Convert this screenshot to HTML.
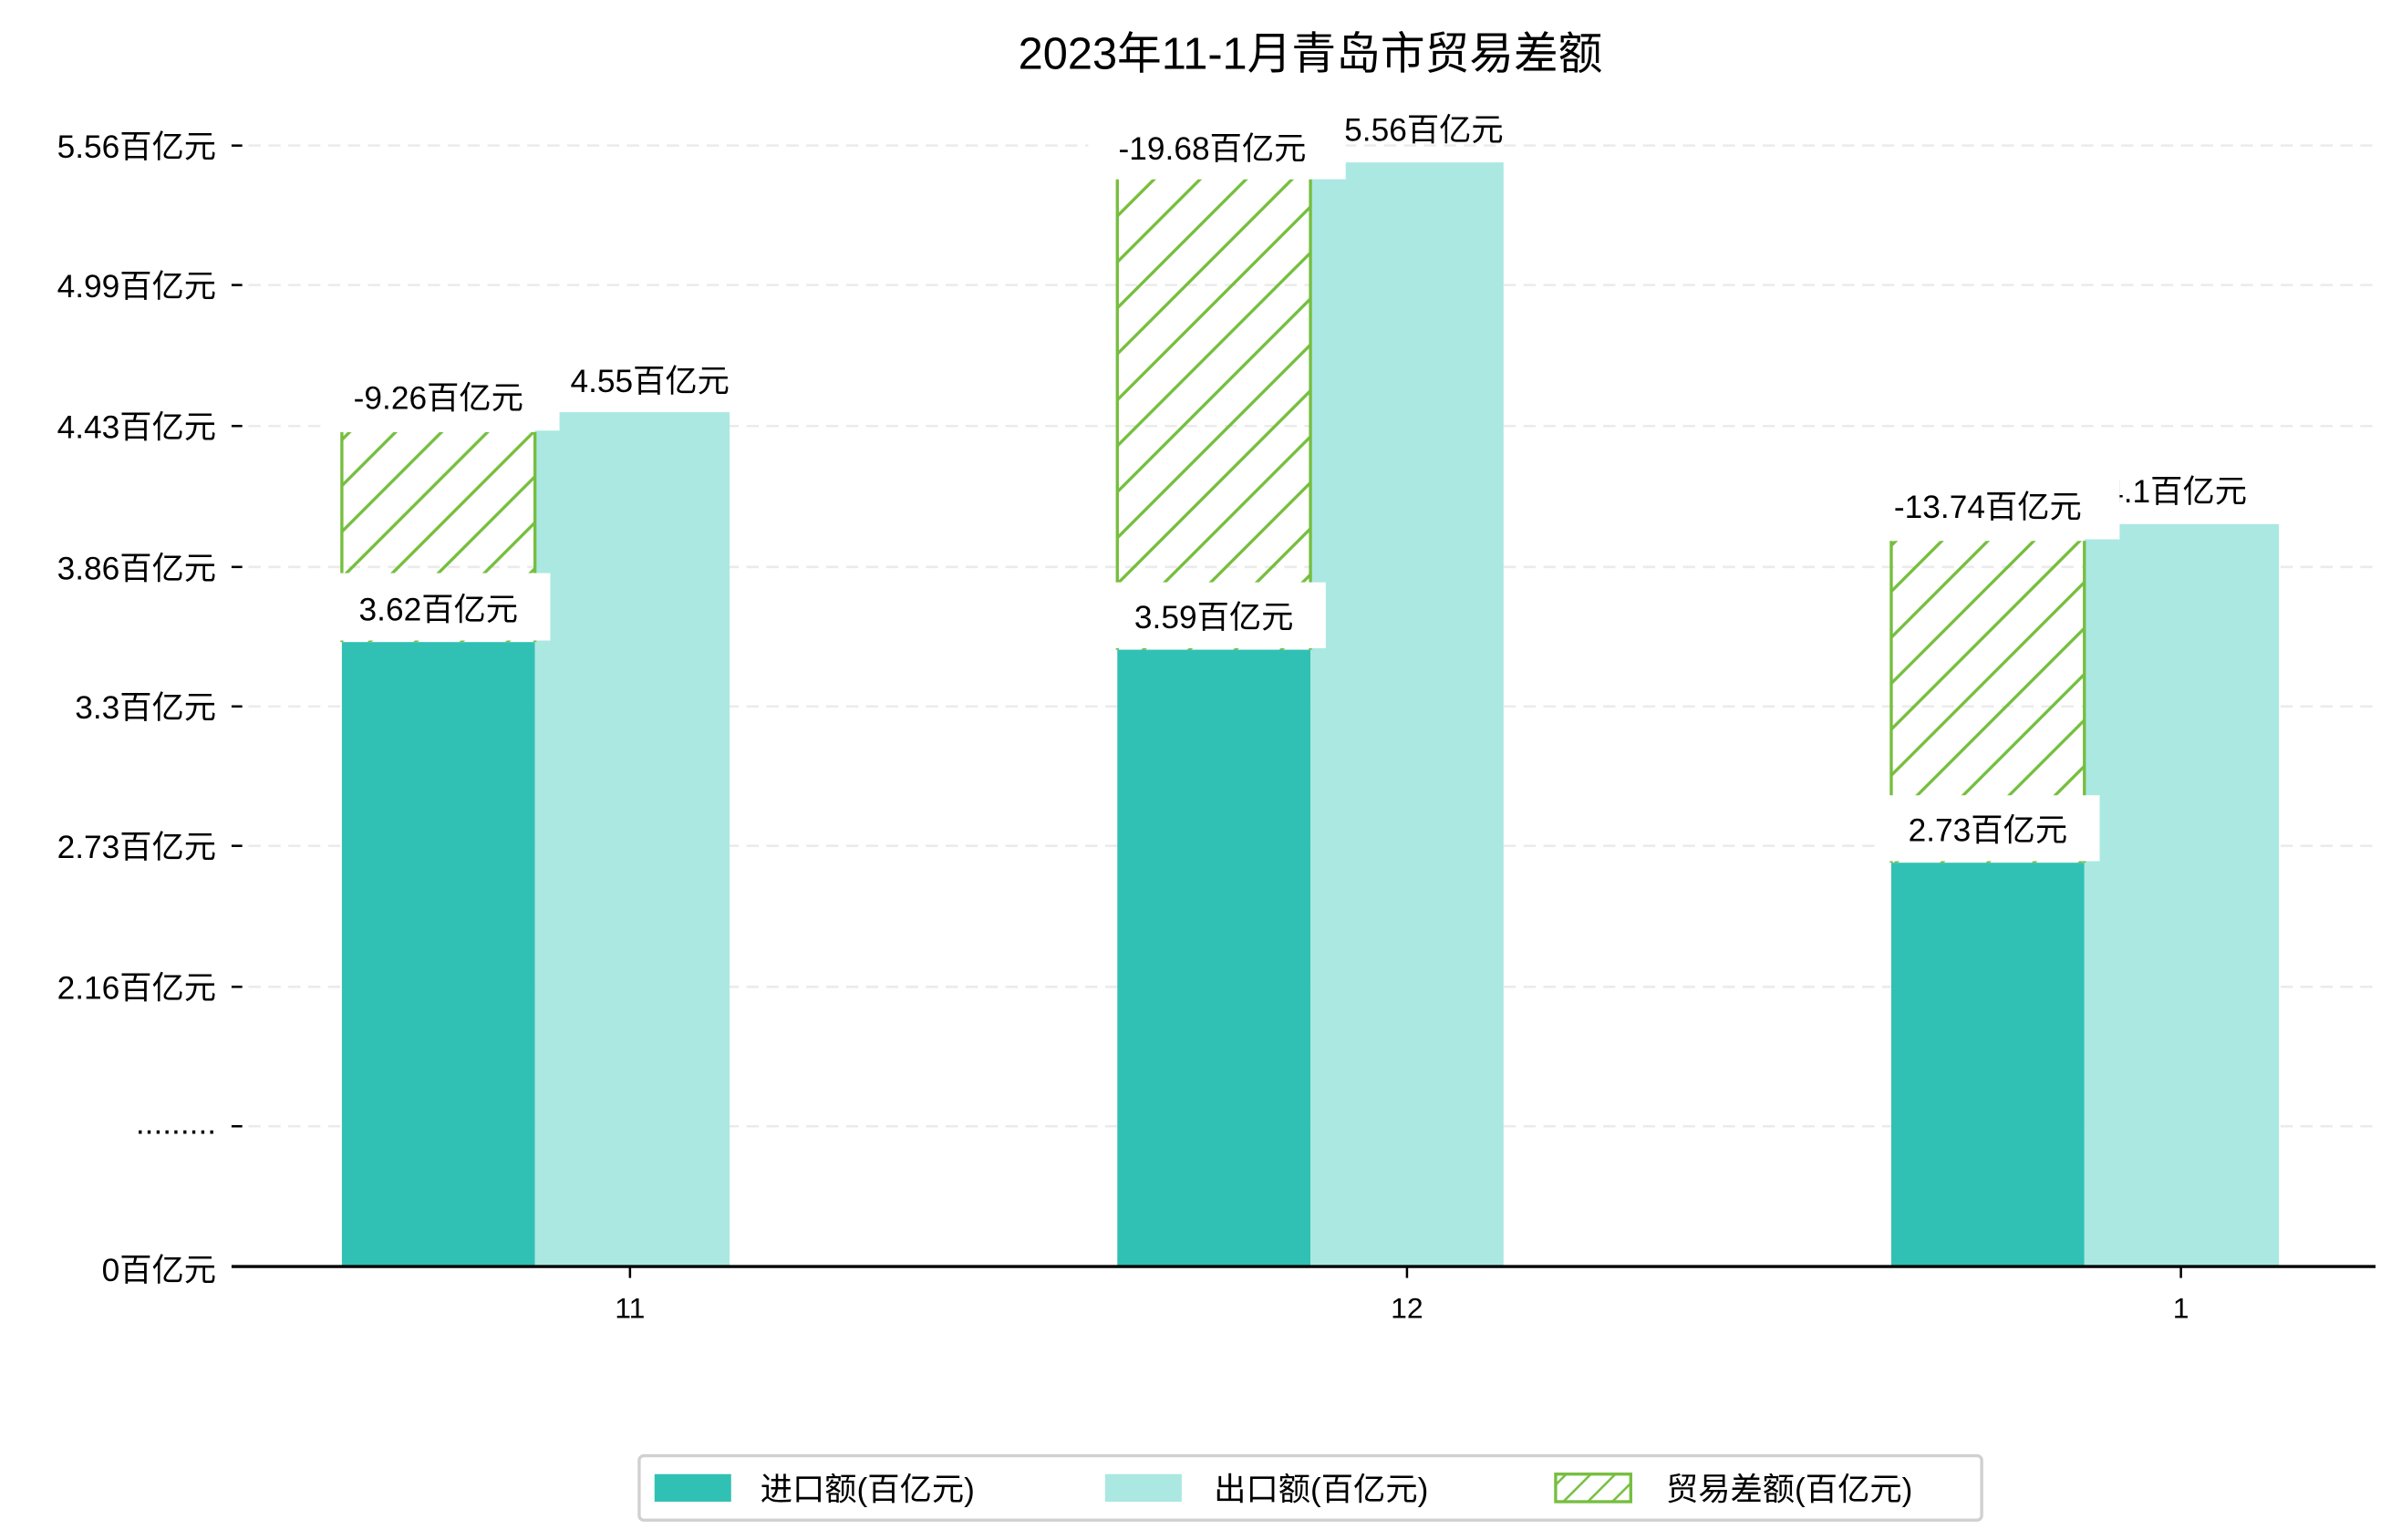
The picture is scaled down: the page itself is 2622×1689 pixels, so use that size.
<!DOCTYPE html>
<html><head><meta charset="utf-8"><style>
html,body{margin:0;padding:0;background:#fff}
svg{display:block}
text{font-family:"Liberation Sans","Noto Sans CJK SC",sans-serif;fill:#000}
</style></head><body>
<svg width="2622" height="1689" viewBox="0 0 1560 1005" xmlns="http://www.w3.org/2000/svg">
<defs>
<pattern id="h" patternUnits="userSpaceOnUse" width="30" height="30">
<path d="M-2,2 L2,-2 M0,30 L30,0 M28,32 L32,28" stroke="#76be3f" stroke-width="2"/>
</pattern>
<pattern id="h2" patternUnits="userSpaceOnUse" width="16" height="16">
<path d="M-2,2 L2,-2 M0,16 L16,0 M14,18 L18,14" stroke="#76be3f" stroke-width="1.5"/>
</pattern>
</defs>
<rect width="1560" height="1005" fill="#fff"/>
<text x="855" y="45" font-size="29" text-anchor="middle">2023年11-1月青岛市贸易差额</text>
<g stroke="#ebebeb" stroke-width="1.5" stroke-dasharray="8,5">
<line x1="162" x2="1550" y1="95" y2="95"/><line x1="162" x2="1550" y1="186" y2="186"/>
<line x1="162" x2="1550" y1="278" y2="278"/><line x1="162" x2="1550" y1="370" y2="370"/>
<line x1="162" x2="1550" y1="461" y2="461"/><line x1="162" x2="1550" y1="552" y2="552"/>
<line x1="162" x2="1550" y1="644" y2="644"/><line x1="162" x2="1550" y1="735" y2="735"/>
</g>
<g stroke="#000" stroke-width="1.5">
<line x1="151" x2="158" y1="95" y2="95"/><line x1="151" x2="158" y1="186" y2="186"/>
<line x1="151" x2="158" y1="278" y2="278"/><line x1="151" x2="158" y1="370" y2="370"/>
<line x1="151" x2="158" y1="461" y2="461"/><line x1="151" x2="158" y1="552" y2="552"/>
<line x1="151" x2="158" y1="644" y2="644"/><line x1="151" x2="158" y1="735" y2="735"/>
</g>
<g font-size="21" text-anchor="end">
<text x="141" y="103">5.56百亿元</text><text x="141" y="194">4.99百亿元</text>
<text x="141" y="286">4.43百亿元</text><text x="141" y="378">3.86百亿元</text>
<text x="141" y="469">3.3百亿元</text><text x="141" y="560">2.73百亿元</text>
<text x="141" y="652">2.16百亿元</text><text x="141" y="740">.........</text>
<text x="141" y="836">0百亿元</text>
</g>
<!-- bars -->
<rect x="223" y="419" width="126" height="407" fill="#31c1b4"/>
<rect x="349" y="269" width="127" height="557" fill="#abe8e2"/>
<rect x="223" y="282" width="126" height="137" fill="url(#h)"/>
<path d="M223,282 V419 M349,282 V419" stroke="#76be3f" stroke-width="2"/>
<rect x="729" y="424" width="126" height="402" fill="#31c1b4"/>
<rect x="855" y="106" width="126" height="720" fill="#abe8e2"/>
<rect x="729" y="117" width="126" height="307" fill="url(#h)"/>
<path d="M729,117 V424 M855,117 V424" stroke="#76be3f" stroke-width="2"/>
<rect x="1234" y="563" width="126" height="263" fill="#31c1b4"/>
<rect x="1360" y="342" width="127" height="484" fill="#abe8e2"/>
<rect x="1234" y="353" width="126" height="210" fill="url(#h)"/>
<path d="M1234,353 V563 M1360,353 V563" stroke="#76be3f" stroke-width="2"/>
<!-- labels -->
<g font-size="21" text-anchor="middle">
<text x="424" y="256">4.55百亿元</text>
<rect x="210" y="240" width="155" height="41" fill="#fff"/>
<text x="286" y="267">-9.26百亿元</text>
<rect x="215" y="374" width="144" height="44" fill="#fff"/>
<text x="286" y="405">3.62百亿元</text>
<text x="929" y="92">5.56百亿元</text>
<rect x="710" y="75" width="168" height="42" fill="#fff"/>
<text x="791" y="104">-19.68百亿元</text>
<rect x="720" y="380" width="145" height="43" fill="#fff"/>
<text x="792" y="410">3.59百亿元</text>
<text x="1420" y="328">4.1百亿元</text>
<rect x="1215" y="310" width="168" height="42" fill="#fff"/>
<text x="1297" y="338">-13.74百亿元</text>
<rect x="1225" y="519" width="145" height="43" fill="#fff"/>
<text x="1297" y="549">2.73百亿元</text>
</g>
<line x1="151" x2="1550" y1="826.5" y2="826.5" stroke="#000" stroke-width="2"/>
<g stroke="#000" stroke-width="1.5">
<line x1="411" x2="411" y1="827" y2="834"/><line x1="918" x2="918" y1="827" y2="834"/><line x1="1423" x2="1423" y1="827" y2="834"/>
</g>
<g font-size="19" text-anchor="middle">
<text x="411" y="860">11</text><text x="918" y="860">12</text><text x="1423" y="860">1</text>
</g>
<rect x="417" y="950" width="876" height="42" rx="3" fill="#fff" stroke="#d0d0d0" stroke-width="2"/>
<rect x="427" y="962" width="50" height="18" fill="#31c1b4"/>
<rect x="721" y="962" width="50" height="18" fill="#abe8e2"/>
<rect x="1015" y="962" width="49" height="18" fill="url(#h2)" stroke="#76be3f" stroke-width="2"/>
<g font-size="21">
<text x="496" y="979">进口额(百亿元)</text>
<text x="792" y="979">出口额(百亿元)</text>
<text x="1087" y="979">贸易差额(百亿元)</text>
</g>
</svg>
</body></html>
